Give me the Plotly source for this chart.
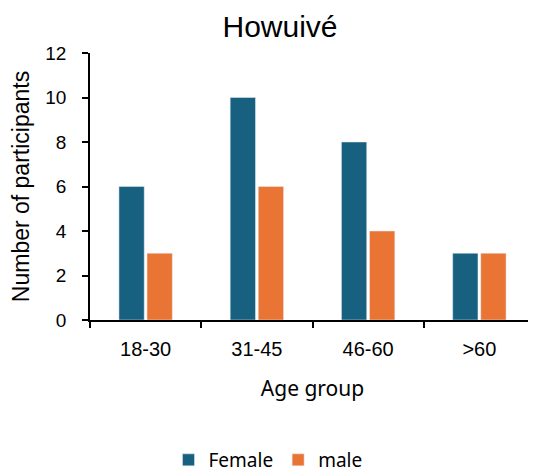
import plotly.graph_objects as go

age_groups = ["18-30", "31-45", "46-60", ">60"]
female = [6, 10, 8, 3]
male = [3, 6, 4, 3]

# page body has an 8px margin, so the figure is sized 8px smaller
W, H = 528, 465

fig = go.Figure()
fig.add_trace(go.Bar(x=age_groups, y=female, name="Female", marker_color="#17607F"))
fig.add_trace(go.Bar(x=age_groups, y=male, name="male", marker_color="#EA7433"))

fig.update_layout(
    width=W, height=H,
    margin=dict(l=82, r=1, t=45, b=153, autoexpand=False),
    plot_bgcolor="white", paper_bgcolor="white",
    barmode="group", bargap=0.495, bargroupgap=0.1,
    title=dict(text="Howuivé", x=272 / W, xanchor="center", y=(H - 18) / H, yanchor="middle",
               font=dict(family="Liberation Sans", size=30, color="black")),
    legend=dict(orientation="h", x=0.4, xanchor="center",
                y=(312 - 452) / 267, yanchor="middle",
                font=dict(family="Noto Sans", size=19, color="black"),
                traceorder="normal"),
)
fig.update_xaxes(
    automargin=False,
    showline=True, linecolor="black", linewidth=1.5,
    ticks="outside", ticklen=6, tickcolor="black", tickwidth=1.5,
    tickson="boundaries", ticklabelstandoff=10,
    tickfont=dict(family="Liberation Sans", size=20, color="black"),
    title=dict(text="Age group", font=dict(family="Noto Sans", size=21, color="black"), standoff=23),
)
fig.update_yaxes(
    automargin=False,
    range=[0, 12], dtick=2, showgrid=False, zeroline=False,
    showline=True, linecolor="black", linewidth=1.5,
    ticks="outside", ticklen=6, tickcolor="black", tickwidth=1.5,
    ticklabelstandoff=12,
    tickfont=dict(family="Liberation Sans", size=19, color="black"),
    title=dict(text="Number of participants", font=dict(family="Liberation Sans", size=23, color="black"), standoff=10),
)

fig.write_html("out.html")
